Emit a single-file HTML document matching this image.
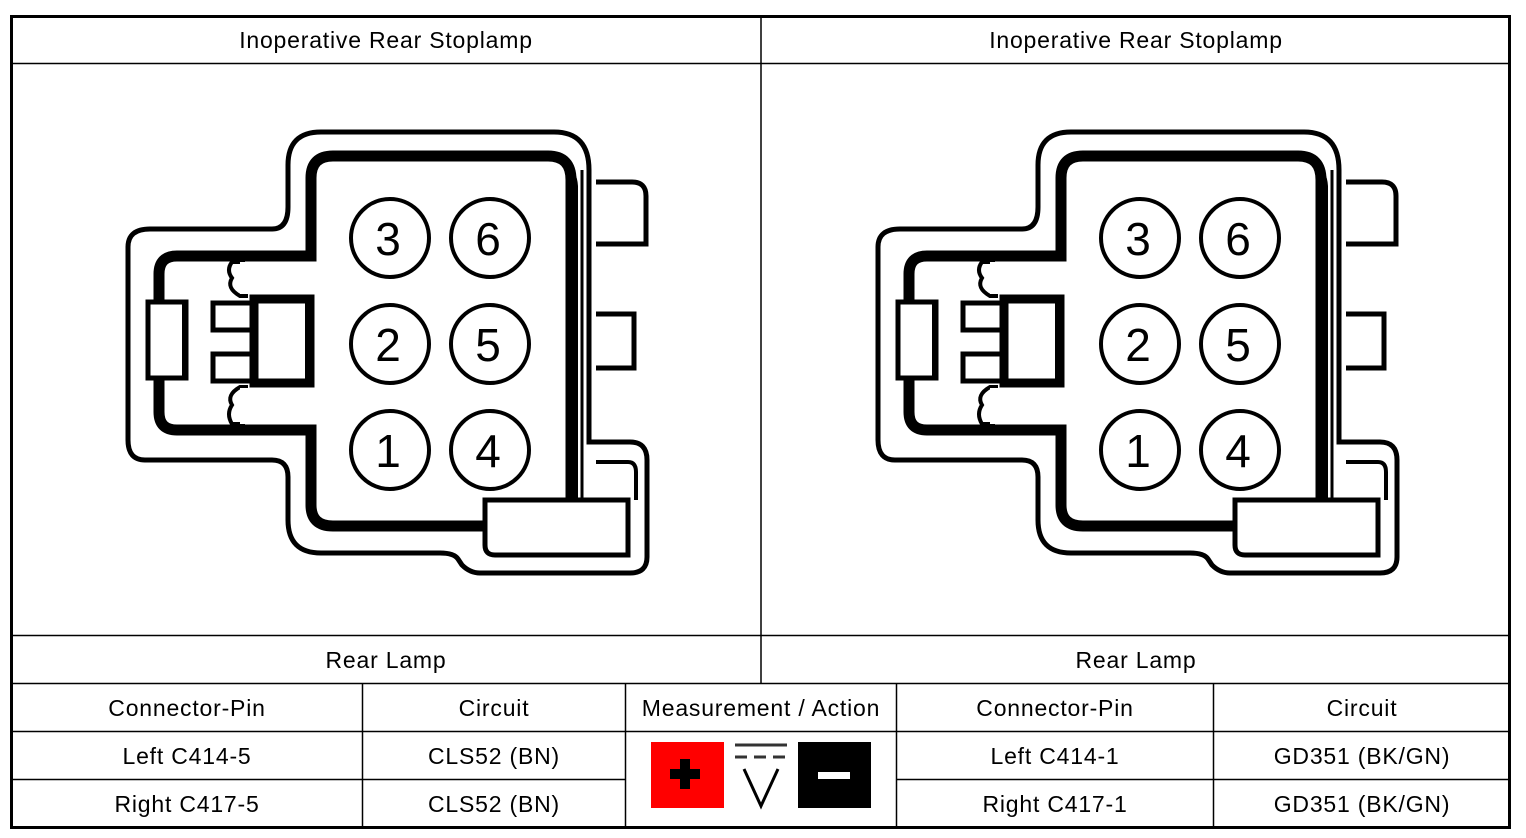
<!DOCTYPE html>
<html><head><style>
body{margin:0;background:#fff;}
svg{display:block;font-family:"Liberation Sans",Arial,sans-serif;}
</style></head><body>
<svg width="1526" height="838" viewBox="0 0 1526 838">
<defs>
<g id="conn">
 <path d="M321 132 L554 132 Q589 132 589 170 L589 442 L630 442 Q647 442 647 460 L647 557 Q647 573 630 573 L480 573 Q470 573 462 565 L458 559 Q454 553 440 553 L321 553 Q288 553 288 520 L288 477 Q288 460 272 460 L145 460 Q128 460 128 440 L128 247 Q128 229 150 229 L272 229 Q288 229 288 207 L288 165 Q288 132 321 132 Z" fill="#fff" stroke="#000" stroke-width="5"/>
 <path d="M582 170 L582 500" stroke="#000" stroke-width="3" fill="none"/>
 <path d="M596 182 L632 182 Q646 182 646 196 L646 244 L596 244" fill="#fff" stroke="#000" stroke-width="5"/>
 <path d="M596 314 L634 314 L634 368 L596 368" fill="#fff" stroke="#000" stroke-width="5"/>
 <path d="M596 462 L628 462 Q636 462 636 472 L636 500" fill="none" stroke="#000" stroke-width="4"/>
 <path d="M311 256 L311 178 Q311 156 333 156 L548 156 Q571 156 571 180 L571 526 L333 526 Q311 526 311 505 L311 430 L177 430 Q159 430 159 412 L159 274 Q159 256 177 256 Z" fill="#fff" stroke="#000" stroke-width="11"/>
 <path d="M565 165 Q576 170 577 186 L577 520" stroke="#000" stroke-width="2" fill="none"/>
 <path d="M485 500 L628 500 L628 555 L495 555 Q485 555 485 545 Z" fill="#fff" stroke="#000" stroke-width="5"/>
 <path d="M245 262 L232 262 Q226 270 232 278 Q226 288 240 296 L248 296" fill="#fff" stroke="#000" stroke-width="4"/>
 <path d="M248 387 L240 387 Q226 395 232 405 Q226 414 232 424 L245 424" fill="#fff" stroke="#000" stroke-width="4"/>
 <rect x="240" y="262" width="66" height="32" fill="#fff"/>
 <rect x="240" y="388" width="66" height="36" fill="#fff"/>
 <rect x="148" y="302" width="38" height="76" fill="#fff" stroke="#000" stroke-width="5"/>
 <line x1="185" y1="300" x2="185" y2="380" stroke="#000" stroke-width="6"/>
 <rect x="213" y="303" width="40" height="27" fill="#fff" stroke="#000" stroke-width="5"/>
 <rect x="213" y="354" width="40" height="27" fill="#fff" stroke="#000" stroke-width="5"/>
 <rect x="254" y="299" width="56" height="84" fill="#fff" stroke="#000" stroke-width="9"/>
 <line x1="306" y1="300" x2="306" y2="383" stroke="#000" stroke-width="2"/>
 <g fill="#fff" stroke="#000" stroke-width="4">
  <circle cx="390" cy="238" r="39"/><circle cx="490" cy="238" r="39"/>
  <circle cx="390" cy="344" r="39"/><circle cx="490" cy="344" r="39"/>
  <circle cx="390" cy="450" r="39"/><circle cx="490" cy="450" r="39"/>
 </g>
 <g font-size="46" text-anchor="middle" fill="#000">
  <text x="388" y="255">3</text><text x="488" y="255">6</text>
  <text x="388" y="361">2</text><text x="488" y="361">5</text>
  <text x="388" y="467">1</text><text x="488" y="467">4</text>
 </g>
</g>
</defs>
<use href="#conn"/>
<use href="#conn" transform="translate(750,0)"/>
<g stroke="#000" fill="none">
 <rect x="11.5" y="16.5" width="1498" height="811" stroke-width="3"/>
 <line x1="761" y1="16" x2="761" y2="683" stroke-width="1.5"/>
 <line x1="11" y1="63.5" x2="1510" y2="63.5" stroke-width="1.5"/>
 <line x1="11" y1="635.5" x2="1510" y2="635.5" stroke-width="1.5"/>
 <line x1="11" y1="683.5" x2="1510" y2="683.5" stroke-width="1.5"/>
 <line x1="11" y1="731.5" x2="1510" y2="731.5" stroke-width="1.5"/>
 <line x1="11" y1="779.5" x2="625" y2="779.5" stroke-width="1.5"/>
 <line x1="896" y1="779.5" x2="1510" y2="779.5" stroke-width="1.5"/>
 <line x1="362.5" y1="683" x2="362.5" y2="828" stroke-width="1.5"/>
 <line x1="625.5" y1="683" x2="625.5" y2="828" stroke-width="1.5"/>
 <line x1="896.5" y1="683" x2="896.5" y2="828" stroke-width="1.5"/>
 <line x1="1213.5" y1="683" x2="1213.5" y2="828" stroke-width="1.5"/>
</g>
<g font-size="23" letter-spacing="0.8" text-anchor="middle" fill="#000">
 <text x="386" y="48">Inoperative Rear Stoplamp</text>
 <text x="1136" y="48">Inoperative Rear Stoplamp</text>
 <text x="386" y="668">Rear Lamp</text>
 <text x="1136" y="668">Rear Lamp</text>
 <text x="187" y="716">Connector-Pin</text>
 <text x="494" y="716">Circuit</text>
 <text x="761" y="716">Measurement / Action</text>
 <text x="1055" y="716">Connector-Pin</text>
 <text x="1362" y="716">Circuit</text>
 <text x="187" y="764">Left C414-5</text>
 <text x="494" y="764">CLS52 (BN)</text>
 <text x="1055" y="764">Left C414-1</text>
 <text x="1362" y="764">GD351 (BK/GN)</text>
 <text x="187" y="812">Right C417-5</text>
 <text x="494" y="812">CLS52 (BN)</text>
 <text x="1055" y="812">Right C417-1</text>
 <text x="1362" y="812">GD351 (BK/GN)</text>
</g>
<rect x="651" y="742" width="73" height="66" fill="#f00"/>
<rect x="680" y="759" width="10" height="30" fill="#000"/>
<rect x="670" y="769" width="30" height="10" fill="#000"/>
<rect x="798" y="742" width="73" height="66" fill="#000"/>
<rect x="818" y="772" width="32" height="7" fill="#fff"/>
<line x1="735" y1="745" x2="787" y2="745" stroke="#333" stroke-width="3"/>
<line x1="735" y1="757" x2="787" y2="757" stroke="#333" stroke-width="3" stroke-dasharray="12,7"/>
<path d="M744 769 L761 806 L778 769" fill="none" stroke="#000" stroke-width="3"/>
</svg>
</body></html>
